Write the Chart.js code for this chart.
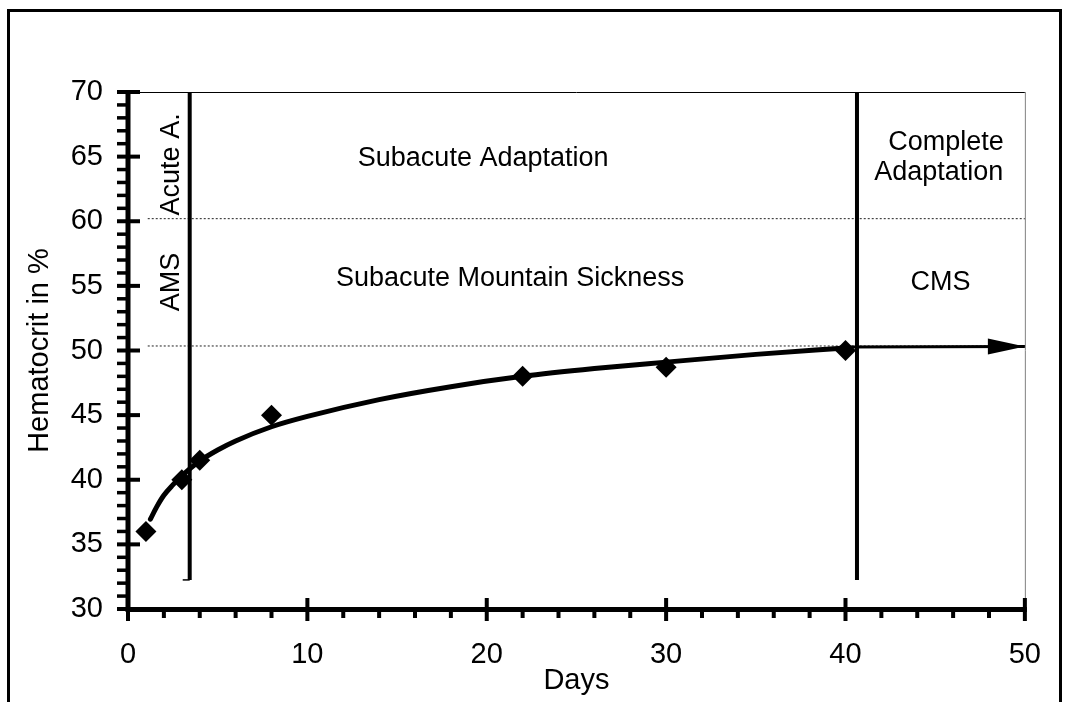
<!DOCTYPE html>
<html><head><meta charset="utf-8">
<script src="https://cdn.jsdelivr.net/npm/chart.js@4"></script>
<style>html,body{margin:0;padding:0;background:#fff}</style>
</head><body>
<canvas id="c" width="1070" height="702"></canvas>
<script>
// ---- data ----
const measuredDays = [1, 3, 4, 8, 22, 30, 40];
const measuredHct  = [36, 40, 41.5, 45, 48, 48.7, 50];
const fitDays = [1.25, 1.6, 2, 2.5, 3, 4, 5, 6, 8, 10, 14, 18, 22, 26, 30, 35, 40];
const fitHct  = [36.95, 37.9, 38.8, 39.6, 40.3, 41.45, 42.3, 43.0, 44.1, 44.9, 46.2, 47.2, 48.0, 48.6, 49.1, 49.7, 50.2];
const arrowDays = [40, 50];
const arrowHct  = [50.28, 50.3];
const phaseLineDays = [3.44, 40.64];
const phaseLineHct  = [32.25, 70];
const hookDays = [3.05, 3.44];
const refLineHct = [60.2, 50.35];
const refLineDays = [1.1, 50];
const xRange = [0, 50], xStep = 10, xMinorStep = 2;
const yRange = [30, 70], yStep = 5, yMinorStep = 1;
const labels = [
  {text: 'Acute A.', x: 2.45, y: 64.4, rot: true},
  {text: 'AMS', x: 2.45, y: 55.3, rot: true},
  {text: 'Subacute Adaptation', x: 19.8, y: 64.85},
  {text: 'Subacute Mountain Sickness', x: 21.3, y: 55.55},
  {text: 'Complete', x: 45.6, y: 66.1},
  {text: 'Adaptation', x: 45.2, y: 63.75},
  {text: 'CMS', x: 45.3, y: 55.25}
];
const FONT = '"Liberation Sans", Arial, Helvetica, sans-serif';
Chart.defaults.font.family = FONT;
Chart.defaults.color = '#000';

const pts = (xs, ys) => xs.map((x, i) => ({x, y: ys[i]}));
const lineDs = (data, extra) => Object.assign({type: 'line', data, borderColor: '#000', backgroundColor: '#000', pointRadius: 0, fill: false, tension: 0, clip: false}, extra);

const datasets = [
  {type: 'scatter', data: pts(measuredDays, measuredHct), pointStyle: 'rectRot', pointRadius: 10.5, pointBackgroundColor: '#000', pointBorderColor: '#000', pointBorderWidth: 0, showLine: false},
  lineDs(pts(fitDays, fitHct), {borderWidth: 5, cubicInterpolationMode: 'monotone', borderCapStyle: 'round', borderJoinStyle: 'round'}),
  lineDs(pts(arrowDays, arrowHct), {borderWidth: 3}),
];
phaseLineDays.forEach(d => datasets.push(lineDs([{x: d, y: phaseLineHct[0]}, {x: d, y: phaseLineHct[1]}], {borderWidth: 4})));
datasets.push(lineDs([{x: hookDays[0], y: phaseLineHct[0]}, {x: hookDays[1], y: phaseLineHct[0]}], {borderWidth: 1.5}));
refLineHct.forEach(h => datasets.push(lineDs([{x: refLineDays[0], y: h}, {x: refLineDays[1], y: h}], {borderWidth: 1, borderDash: [2, 2], borderColor: '#222'})));

const deco = {
  id: 'deco',
  beforeDatasetsDraw(chart) {
    const {ctx, chartArea: a} = chart;
    ctx.save();
    ctx.strokeStyle = '#000'; ctx.lineWidth = 3;
    ctx.strokeRect(8.5, 10.5, 1052, 720);
    ctx.lineWidth = 1;
    ctx.beginPath(); ctx.moveTo(a.left, a.top + 0.5); ctx.lineTo(a.right, a.top + 0.5); ctx.stroke();
    ctx.strokeStyle = '#808080';
    ctx.beginPath(); ctx.moveTo(a.right + 0.5, a.top); ctx.lineTo(a.right + 0.5, a.bottom); ctx.stroke();
    ctx.restore();
  },
  afterDatasetsDraw(chart) {
    const {ctx, chartArea: a, scales: {x: xs, y: ys}} = chart;
    ctx.save();
    ctx.fillStyle = '#000';
    const meta = chart.getDatasetMeta(2);
    const end = meta.data[meta.data.length - 1];
    ctx.beginPath();
    ctx.moveTo(end.x, end.y);
    ctx.lineTo(end.x - 37, end.y - 8);
    ctx.lineTo(end.x - 37, end.y + 8);
    ctx.closePath(); ctx.fill();
    ctx.fillRect(a.left - 2.5, a.top, 5, a.bottom - a.top + 2);
    ctx.fillRect(a.left - 2.5, a.bottom - 2, a.right - a.left + 4.5, 5);
    for (let v = yRange[0]; v <= yRange[1]; v += yMinorStep) {
      const py = ys.getPixelForValue(v);
      if (v % yStep === 0) ctx.fillRect(a.left - 11, py - 2, 23, 4);
      else ctx.fillRect(a.left - 11, py - 1.75, 11, 3.5);
    }
    for (let v = xRange[0]; v <= xRange[1]; v += xMinorStep) {
      const px = xs.getPixelForValue(v);
      if (v % xStep === 0) ctx.fillRect(px - 2, a.bottom - 11, 4, 23);
      else ctx.fillRect(px - 2, a.bottom, 4, 9);
    }
    ctx.font = '27px ' + FONT;
    ctx.textAlign = 'center'; ctx.textBaseline = 'middle';
    labels.forEach(l => {
      const px = xs.getPixelForValue(l.x), py = ys.getPixelForValue(l.y);
      if (l.rot) {
        ctx.save(); ctx.translate(px, py); ctx.rotate(-Math.PI / 2);
        ctx.fillText(l.text, 0, 0); ctx.restore();
      } else ctx.fillText(l.text, px, py);
    });
    ctx.restore();
  }
};

new Chart(document.getElementById('c'), {
  type: 'scatter',
  data: {datasets},
  options: {
    responsive: false, animation: false, devicePixelRatio: 1,
    layout: {padding: {left: 23, top: 92, right: 45, bottom: 4}},
    plugins: {legend: {display: false}, tooltip: {enabled: false}},
    scales: {
      x: {
        type: 'linear', min: xRange[0], max: xRange[1],
        grid: {display: false, drawTicks: false}, border: {display: false},
        ticks: {stepSize: xStep, padding: 29, font: {size: 29}, color: '#000'},
        title: {display: true, text: 'Days', font: {size: 29}, color: '#000', padding: {top: 0, bottom: 0}},
        afterFit: s => { s.height = 89; }
      },
      y: {
        type: 'linear', min: yRange[0], max: yRange[1],
        grid: {display: false, drawTicks: false}, border: {display: false},
        ticks: {stepSize: yStep, padding: 25, font: {size: 29}, color: '#000'},
        title: {display: true, text: 'Hematocrit in %', font: {size: 29}, color: '#000', padding: {top: 0, bottom: 0}},
        afterFit: s => { s.width = 105; }
      }
    }
  },
  plugins: [deco]
});
</script>
</body></html>
